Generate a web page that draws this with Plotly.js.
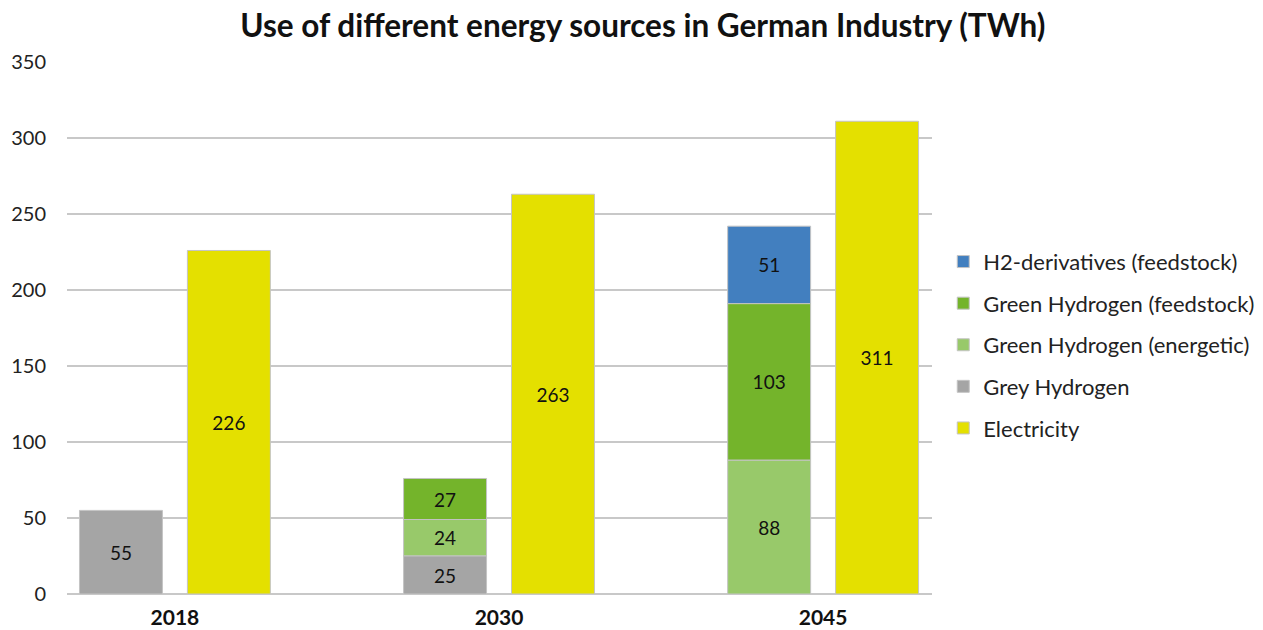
<!DOCTYPE html>
<html>
<head>
<meta charset="utf-8">
<script src="https://cdn.plot.ly/plotly-3.0.1.min.js"></script>
<style>html,body{margin:0;padding:0;background:#fff;}#chart{width:1263px;height:630px;}</style>
</head>
<body>
<div id="chart"></div>
<script>
const years = ['2018', '2030', '2045'];
const greyHydrogen = [55, 25, null];
const greenEnergetic = [null, 24, 88];
const greenFeedstock = [null, 27, 103];
const h2Derivatives = [null, null, 51];
const electricity = [226, 263, 311];
const yTicks = [0, 50, 100, 150, 200, 250, 300, 350];

const FONT = 'Lato, "Open Sans", sans-serif';
const BW = 0.256;
const H2_OFFSET = -0.2945;
const EL_OFFSET = 0.0385;

function cumBase(arrays) {
  const bases = [];
  let acc = years.map(() => 0);
  arrays.forEach(arr => {
    bases.push(acc.slice());
    acc = acc.map((v, i) => v + (arr[i] || 0));
  });
  return bases;
}
const stack = [greyHydrogen, greenEnergetic, greenFeedstock, h2Derivatives];
const bases = cumBase(stack);

function barTrace(name, vals, base, color, offset, group) {
  return {
    type: 'bar', name: name, x: years, y: vals, base: base,
    width: BW, offset: offset, legendgroup: group,
    marker: {color: color, line: {color: '#c4c4c4', width: 1}},
    text: vals.map(v => v == null ? '' : String(v)),
    textposition: 'inside', insidetextanchor: 'middle',
    textfont: {family: FONT, size: 19, color: '#111'},
    constraintext: 'none',
    hoverinfo: 'skip'
  };
}

const traces = [
  barTrace('H2-derivatives (feedstock)', h2Derivatives, bases[3], '#427fbf', H2_OFFSET, 'h2d'),
  barTrace('Green Hydrogen (feedstock)', greenFeedstock, bases[2], '#74b42b', H2_OFFSET, 'gf'),
  barTrace('Green Hydrogen (energetic)', greenEnergetic, bases[1], '#98c96a', H2_OFFSET, 'ge'),
  barTrace('Grey Hydrogen', greyHydrogen, bases[0], '#a5a5a5', H2_OFFSET, 'grey'),
  barTrace('Electricity', electricity, years.map(() => 0), '#e4e000', EL_OFFSET, 'el')
];

const layout = {
  width: 1263, height: 630,
  margin: {l: 67, r: 331, t: 62, b: 36, pad: 0, autoexpand: false},
  paper_bgcolor: '#fff', plot_bgcolor: '#fff',
  font: {family: FONT, color: '#222'},
  title: {
    text: '<b>Use of different energy sources in German Industry (TWh)</b>',
    font: {family: FONT, size: 31.5, color: '#111'},
    x: 0.509, xanchor: 'center', y: 0.958, yanchor: 'middle'
  },
  barmode: 'overlay',
  showlegend: true,
  legend: {
    x: 1.013, xanchor: 'left', y: 0.664, yanchor: 'top',
    traceorder: 'grouped', tracegroupgap: 10,
    font: {family: FONT, size: 22, color: '#222'},
    bgcolor: 'rgba(0,0,0,0)'
  },
  xaxis: {
    type: 'category', range: [-0.333, 2.336],
    showgrid: false, zeroline: false, showline: false, ticks: '',
    tickfont: {family: FONT, size: 21, color: '#111', weight: 'bold'},
    ticklabelstandoff: 9, fixedrange: true
  },
  yaxis: {
    range: [0, 350], tickvals: yTicks, ticktext: yTicks.map(String),
    showgrid: true, gridcolor: '#c8c8c8', gridwidth: 2,
    zeroline: true, zerolinecolor: '#c8c8c8', zerolinewidth: 2,
    showline: false, ticks: '',
    tickfont: {family: FONT, size: 20, color: '#222'},
    ticklabelstandoff: 20, fixedrange: true
  }
};

Plotly.newPlot('chart', traces, layout, {displayModeBar: false, staticPlot: true});
</script>
</body>
</html>
